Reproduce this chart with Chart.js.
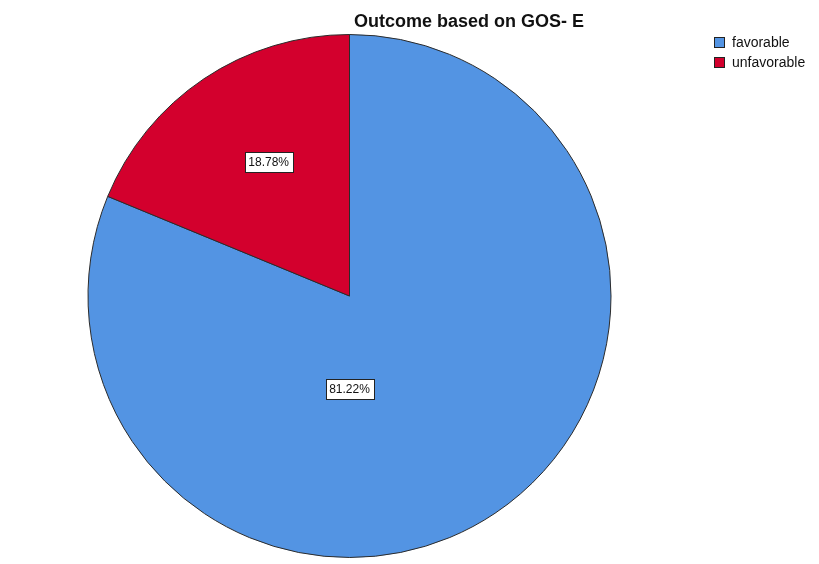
<!DOCTYPE html>
<html>
<head>
<meta charset="utf-8">
<script src="https://cdn.jsdelivr.net/npm/chart.js@4.4.0/dist/chart.umd.min.js"></script>
<style>
  html, body { margin: 0; padding: 0; background: #fff; }
  #wrap { width: 819px; height: 564px; position: relative; }
</style>
</head>
<body>
<div id="wrap"><canvas id="pie" width="819" height="564"></canvas></div>
<script>
// data
const categories = ['favorable', 'unfavorable'];
const percents = [81.22, 18.78];
const sliceColors = ['#5394E3', '#D3002D'];

// label placement: angle (deg clockwise from top) and fraction of radius
const labelSpots = [
    { angle: 180, frac: 0.355 },
    { angle: 329, frac: 0.6 }
];

const decorPlugin = {
    id: 'decor',
    afterDraw(chart) {
        const c = chart.ctx;
        const arcs = chart.getDatasetMeta(0).data;

        // title
        c.save();
        c.fillStyle = '#111';
        c.font = 'bold 18px "Liberation Sans", Arial, sans-serif';
        c.textAlign = 'center';
        c.textBaseline = 'middle';
        c.fillText('Outcome based on GOS- E', 469, 22);

        // legend
        c.font = '14px "Liberation Sans", Arial, sans-serif';
        c.textAlign = 'left';
        categories.forEach((name, i) => {
            const y = 37 + i * 20;
            c.fillStyle = sliceColors[i];
            c.fillRect(714.5, y + 0.5, 10, 10);
            c.strokeStyle = '#222';
            c.lineWidth = 1;
            c.strokeRect(714.5, y + 0.5, 10, 10);
            c.fillStyle = '#111';
            c.fillText(name, 732, y + 6);
        });

        // value labels
        c.font = '12px "Liberation Sans", Arial, sans-serif';
        c.textAlign = 'center';
        arcs.forEach((arc, i) => {
            const p = arc.getProps(['x', 'y', 'outerRadius'], true);
            const spot = labelSpots[i];
            const ang = spot.angle * Math.PI / 180 - Math.PI / 2;
            const lx = p.x + Math.cos(ang) * p.outerRadius * spot.frac;
            const ly = p.y + Math.sin(ang) * p.outerRadius * spot.frac;
            const txt = percents[i].toFixed(2) + '%';
            const w = Math.round(c.measureText(txt).width + 7);
            const h = 20;
            const bx = Math.round(lx - w / 2) + 0.5, by = Math.round(ly - h / 2) + 0.5;
            c.fillStyle = '#fff';
            c.fillRect(bx, by, w, h);
            c.strokeStyle = '#222';
            c.strokeRect(bx, by, w, h);
            c.fillStyle = '#111';
            c.fillText(txt, lx, ly + 1);
        });
        c.restore();
    }
};

new Chart(document.getElementById('pie'), {
    type: 'pie',
    data: {
        labels: categories,
        datasets: [{
            data: percents,
            backgroundColor: sliceColors,
            borderColor: '#2b2b2b',
            borderWidth: 1
        }]
    },
    options: {
        responsive: false,
        animation: false,
        layout: { padding: { left: 87, right: 207, top: 34, bottom: 6 } },
        plugins: {
            legend: { display: false },
            title: { display: false },
            tooltip: { enabled: false }
        }
    },
    plugins: [decorPlugin]
});
</script>
</body>
</html>
